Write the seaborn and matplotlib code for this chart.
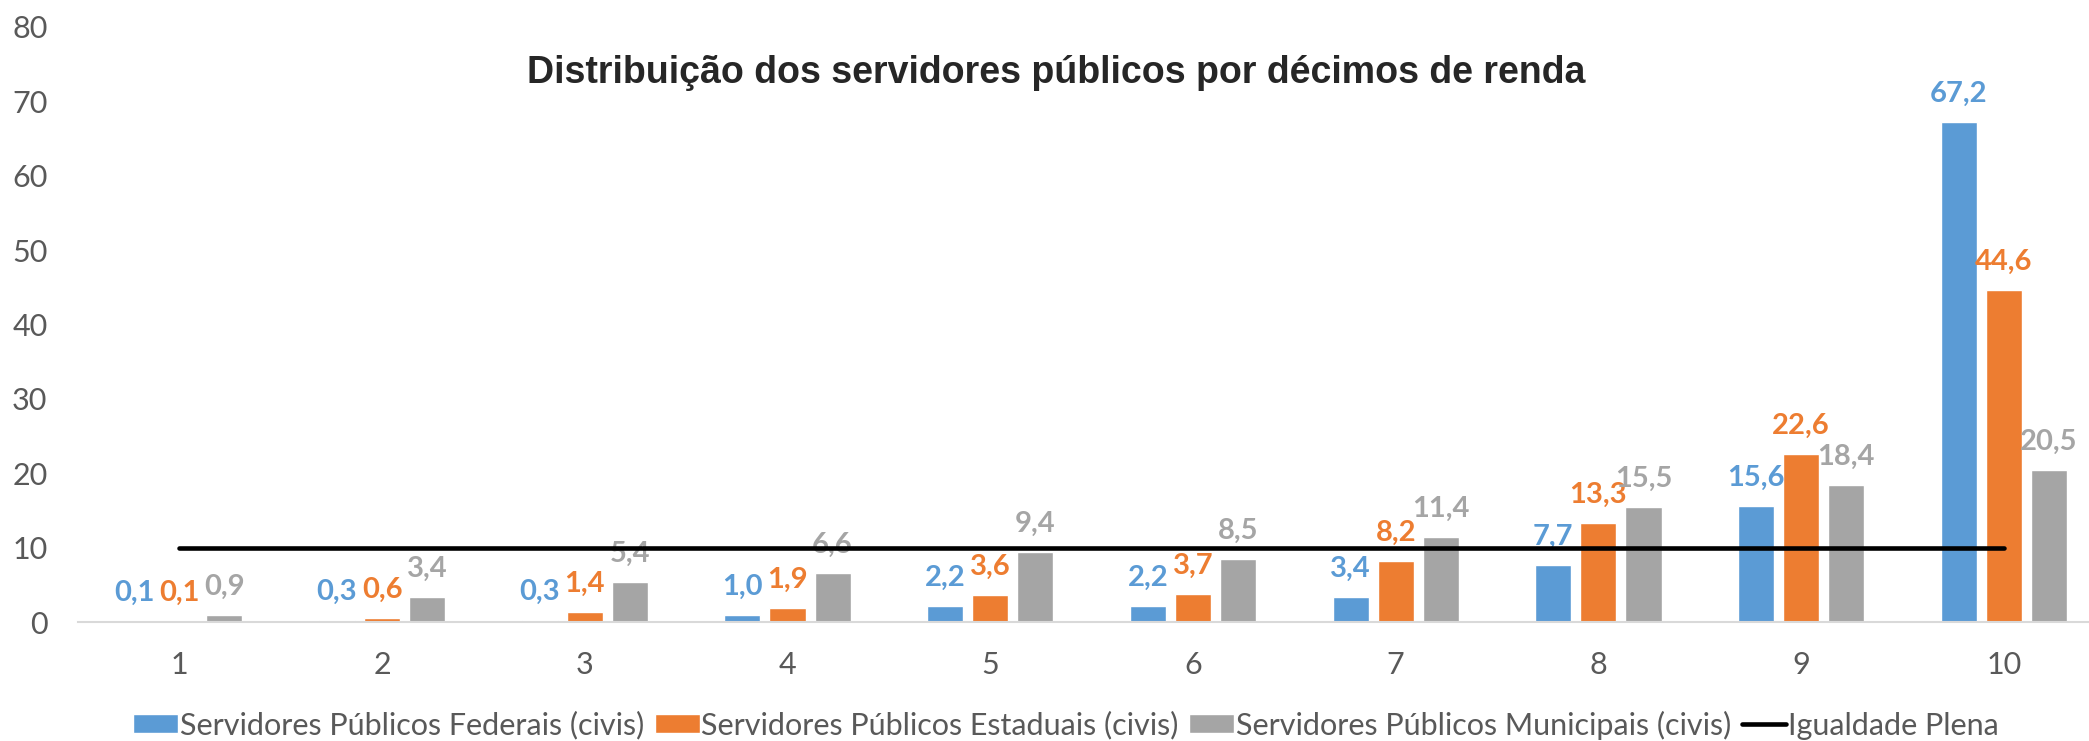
import matplotlib
matplotlib.use("Agg")
import matplotlib.pyplot as plt
import seaborn as sns
import pandas as pd

# ---- data ----
deciles = ["1", "2", "3", "4", "5", "6", "7", "8", "9", "10"]
federais = [0.1, 0.3, 0.3, 1.0, 2.2, 2.2, 3.4, 7.7, 15.6, 67.2]
estaduais = [0.1, 0.6, 1.4, 1.9, 3.6, 3.7, 8.2, 13.3, 22.6, 44.6]
municipais = [0.9, 3.4, 5.4, 6.6, 9.4, 8.5, 11.4, 15.5, 18.4, 20.5]
igualdade = [10, 10, 10, 10, 10, 10, 10, 10, 10, 10]
series_names = ["Servidores Públicos Federais (civis)",
                "Servidores Públicos Estaduais (civis)",
                "Servidores Públicos Municipais (civis)"]
line_name = "Igualdade Plena"
title = "Distribuição dos servidores públicos por décimos de renda"
yticks = [0, 10, 20, 30, 40, 50, 60, 70, 80]

colors = ["#5B9BD5", "#ED7D31", "#A5A5A5"]

df = pd.DataFrame({
    "decil": deciles * 3,
    "valor": federais + estaduais + municipais,
    "serie": [series_names[0]] * 10 + [series_names[1]] * 10 + [series_names[2]] * 10,
})
df_line = pd.DataFrame({"decil": deciles, "valor": igualdade})

sns.set_theme(style="white")
plt.rcParams["font.family"] = ["Lato", "DejaVu Sans"]

W, H = 2089, 741
fig = plt.figure(figsize=(W / 100, H / 100), dpi=100)
fig.patch.set_facecolor("white")
ax = fig.add_axes([78 / W, 119 / H, (W - 78) / W, (714 - 119) / H])
ax.set_facecolor("none")

sns.barplot(data=df, x="decil", y="valor", hue="serie", order=deciles,
            hue_order=series_names, palette=colors, width=0.667, gap=0.2,
            saturation=1, ax=ax, legend=True)
ax.plot(range(len(deciles)), df_line["valor"], color="black", lw=3.3,
        solid_capstyle="round", label=line_name, zorder=5)

# value labels
for cont, col in zip(ax.containers, colors):
    for bar in cont:
        h = bar.get_height()
        ax.annotate(f"{h:.1f}".replace(".", ","),
                    (bar.get_x() + bar.get_width() / 2, h),
                    xytext=(0, 14.5), textcoords="offset points",
                    ha="center", va="baseline", color=col,
                    fontsize=21, fontweight="bold")

ax.set_xlim(-0.5, 9.42)
ax.set_ylim(0, 80)
ax.set_yticks(yticks)
ax.set_yticklabels([str(v) for v in yticks])
ax.set_xlabel("")
ax.set_ylabel("")
ax.tick_params(axis="both", length=0, labelsize=22, labelcolor="#595959")
ax.tick_params(axis="x", pad=21)
ax.tick_params(axis="y", pad=22)
for s in ["top", "right", "left"]:
    ax.spines[s].set_visible(False)
ax.spines["bottom"].set_color("#D9D9D9")
ax.spines["bottom"].set_linewidth(1.5)
ax.grid(False)

handles, labels = ax.get_legend_handles_labels()
ax.legend(handles, labels, ncol=4, loc="center",
          bbox_to_anchor=(1066 / W, 16 / H), bbox_transform=fig.transFigure,
          frameon=False, fontsize=22, handlelength=1.47, handleheight=0.6,
          handletextpad=0.05, columnspacing=0.35, labelcolor="#595959",
          borderpad=0, borderaxespad=0)

fig.text(1056 / W, (H - 83) / H, title, ha="center", va="baseline",
         fontsize=27, fontweight="bold",
         family=["Liberation Sans", "DejaVu Sans"])

fig.savefig("out.png", dpi=100)
